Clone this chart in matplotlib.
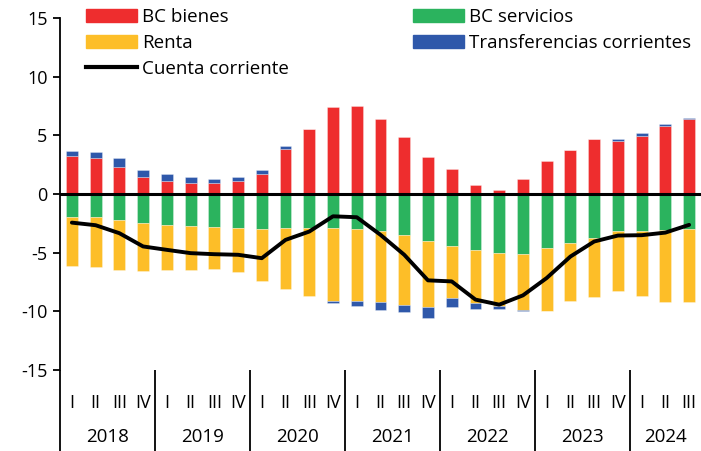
import matplotlib
matplotlib.use("Agg")
import matplotlib.pyplot as plt
from matplotlib.lines import Line2D
from matplotlib.patches import Patch
import matplotlib.transforms as mtransforms
import numpy as np

plt.rcParams['font.family'] = ['Open Sans', 'DejaVu Sans']

years = ["2018", "2019", "2020", "2021", "2022", "2023", "2024"]
quarters = ["I", "II", "III", "IV"] * 6 + ["I", "II", "III"]

bc_bienes = [3.23, 3.03, 2.27, 1.42, 1.08, 0.91, 0.91, 1.08, 1.67, 3.85, 5.5, 7.42, 7.5, 6.4,
             4.84, 3.14, 2.15, 0.79, 0.34, 1.25, 2.83, 3.74, 4.65, 4.53, 4.98, 5.78, 6.37]
bc_servicios = [-2.0, -2.0, -2.21, -2.46, -2.63, -2.75, -2.8, -2.89, -2.97, -2.86, -2.92, -2.92,
                -2.97, -3.14, -3.48, -3.99, -4.42, -4.81, -5.01, -5.1, -4.59, -4.16, -3.74,
                -3.17, -3.17, -3.06, -2.97]
renta = [-4.1, -4.2, -4.28, -4.08, -3.86, -3.74, -3.57, -3.74, -4.48, -5.21, -5.77, -6.2, -6.15,
         -6.04, -5.98, -5.64, -4.44, -4.48, -4.56, -4.76, -5.35, -4.93, -5.01, -5.07, -5.52,
         -6.17, -6.21]
transferencias = [0.42, 0.53, 0.76, 0.6, 0.65, 0.51, 0.34, 0.37, 0.34, 0.28, 0.03, -0.2, -0.4,
                  -0.7, -0.6, -0.91, -0.8, -0.54, -0.25, -0.1, -0.05, 0.05, 0.03, 0.14, 0.2,
                  0.17, 0.14]
cuenta_corriente = [-2.44, -2.66, -3.34, -4.47, -4.76, -5.04, -5.13, -5.18, -5.47, -3.91, -3.2,
                    -1.9, -1.98, -3.48, -5.18, -7.36, -7.45, -9.0, -9.43, -8.64, -7.16, -5.33,
                    -4.05, -3.54, -3.51, -3.29, -2.63]

c_red = "#EE2D2E"
c_green = "#2BB35E"
c_yellow = "#FDBE28"
c_blue = "#2F58AA"

fig = plt.figure(figsize=(7.01, 4.51), dpi=100)
ax = fig.add_axes([60/701, 1 - 370/451, 1 - 60/701, (370 - 18)/451])

n = len(quarters)
x = np.arange(n)
pos = np.zeros(n)
neg = np.zeros(n)
series = [(bc_bienes, c_red), (bc_servicios, c_green), (renta, c_yellow), (transferencias, c_blue)]
for vals, col in series:
    v = np.array(vals, dtype=float)
    bottom = np.where(v >= 0, pos, neg)
    ax.bar(x, v, width=0.5, bottom=bottom, color=col, edgecolor=(1, 1, 1, 0.35),
           linewidth=0.6, zorder=2)
    pos = pos + np.where(v >= 0, v, 0)
    neg = neg + np.where(v < 0, v, 0)

ax.axhline(0, color="black", lw=2.2, zorder=3)
ax.plot(x, cuenta_corriente, color="black", lw=2.8, zorder=4, solid_capstyle='round',
        solid_joinstyle='round')

ax.set_xlim(-0.5, n - 0.5)
ax.set_ylim(-15, 15)
ax.set_yticks([15, 10, 5, 0, -5, -10, -15])
ax.set_yticklabels(["15", "10", "5", "0", "-5", "-10", "-15"])
for s in ["top", "right", "bottom"]:
    ax.spines[s].set_visible(False)
ax.spines["left"].set_linewidth(1.3)
ax.tick_params(axis="y", length=5, width=1.3, labelsize=13, pad=4)

ax.set_xticks(x)
ax.set_xticklabels(quarters, fontsize=13)
ax.tick_params(axis="x", length=0, pad=17)

trans = mtransforms.blended_transform_factory(ax.transData, ax.transAxes)
# left spine extension to bottom of figure
ax.plot([-0.5, -0.5], [0, -81/352], transform=trans, color="black", lw=1.3, clip_on=False,
        solid_capstyle='butt')
for k in range(1, len(years)):
    xs = 4 * k - 0.5
    ax.plot([xs, xs], [0, -81/352], transform=trans, color="black", lw=1.3, clip_on=False,
            solid_capstyle='butt')
for k, yr in enumerate(years):
    nq = min(4, n - 4 * k)
    xc = 4 * k + (nq - 1) / 2
    ax.text(xc, -67/352, yr, transform=trans, ha="center", va="center", fontsize=13.5)

handles = [Patch(color=c_red), Patch(color=c_yellow),
           Line2D([0], [0], color="black", lw=3),
           Patch(color=c_green), Patch(color=c_blue)]
labels = ["BC bienes", "Renta", "Cuenta corriente", "BC servicios", "Transferencias corrientes"]
fig.legend(handles, labels, ncol=2, loc="upper left", bbox_to_anchor=(86/701, 1 - 8/451),
           frameon=False, fontsize=13.5, handlelength=2.7, handleheight=0.65,
           handletextpad=0.3, labelspacing=0.42, columnspacing=6.6, borderpad=0,
           borderaxespad=0)

fig.savefig("out.png", dpi=100)
